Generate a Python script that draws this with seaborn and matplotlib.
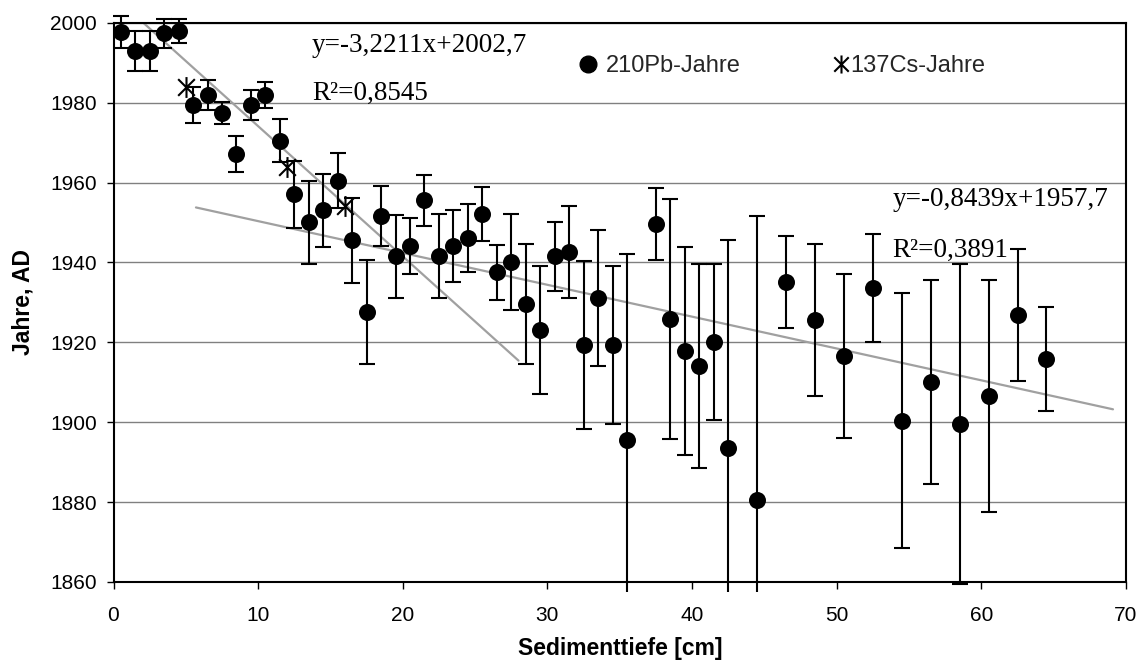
import numpy as np
import pandas as pd
import matplotlib
matplotlib.use("Agg")
import matplotlib.pyplot as plt
import seaborn as sns
from matplotlib.lines import Line2D
from matplotlib.path import Path
from matplotlib.transforms import Bbox, TransformedBbox

# ---------------- data ----------------
pb_depth = [0.5, 1.5, 2.5, 3.5, 4.5, 5.5, 6.5, 7.5, 8.5, 9.5, 10.5, 11.5, 12.5, 13.5,
            14.5, 15.5, 16.5, 17.5, 18.5, 19.5, 20.5, 21.5, 22.5, 23.5, 24.5, 25.5,
            26.5, 27.5, 28.5, 29.5, 30.5, 31.5, 32.5, 33.5, 34.5, 35.5, 37.5, 38.5,
            39.5, 40.5, 41.5, 42.5, 44.5, 46.5, 48.5, 50.5, 52.5, 54.5, 56.5, 58.5,
            60.5, 62.5, 64.5]
pb_year = [1997.6, 1992.8, 1992.8, 1997.3, 1998.0, 1979.4, 1981.9, 1977.4, 1967.1,
           1979.4, 1981.9, 1970.5, 1957.0, 1950.0, 1953.0, 1960.5, 1945.5, 1927.5,
           1951.5, 1941.5, 1944.0, 1955.5, 1941.5, 1944.0, 1946.1, 1952.1, 1937.5,
           1940.0, 1929.5, 1923.0, 1941.5, 1942.5, 1919.4, 1931.1, 1919.4, 1895.5,
           1949.6, 1925.9, 1917.9, 1914.0, 1920.0, 1893.5, 1880.5, 1935.0, 1925.5,
           1916.5, 1933.5, 1900.4, 1910.0, 1899.6, 1906.5, 1926.9, 1915.9]
pb_err = [4.0, 5.0, 5.0, 3.7, 3.0, 4.5, 3.8, 2.7, 4.5, 3.8, 3.3, 5.3, 8.5, 10.4, 9.2,
          7.0, 10.6, 13.0, 7.5, 10.3, 7.0, 6.3, 10.5, 9.0, 8.5, 6.7, 6.8, 12.0, 15.0,
          16.0, 8.7, 11.5, 21.0, 17.0, 19.8, 46.5, 8.9, 30.0, 26.0, 25.5, 19.5, 52.0,
          71.0, 11.5, 19.0, 20.5, 13.5, 32.0, 25.5, 40.0, 29.0, 16.5, 13.0]

cs_depth = [5.0, 12.0, 16.0]
cs_year = [1984.0, 1964.0, 1954.0]

# trend lines (as drawn): x-range, slope, intercept
trend1_x = [1.9, 28.0]
trend1_coef = [-3.26, 2006.7]
trend2_x = [5.7, 69.1]
trend2_coef = [-0.797, 1958.3]

eq1_text = ["y=-3,2211x+2002,7", "R²=0,8545"]
eq2_text = ["y=-0,8439x+1957,7", "R²=0,3891"]
legend_labels = ["210Pb-Jahre", "137Cs-Jahre"]
x_ticks = [0, 10, 20, 30, 40, 50, 60, 70]
y_ticks = [1860, 1880, 1900, 1920, 1940, 1960, 1980, 2000]
x_label = "Sedimenttiefe [cm]"
y_label = "Jahre, AD"

# ---------------- style ----------------
sns.set_theme(style="white")
plt.rcParams['font.family'] = ['Liberation Sans', 'DejaVu Sans']

W, H = 1142, 666
fig = plt.figure(figsize=(W / 100, H / 100), dpi=100)
ax = fig.add_axes([113.5 / W, 1 - 582 / H, (1126 - 113.5) / W, (582 - 22.7) / H])

df = pd.DataFrame({"depth": pb_depth, "year": pb_year, "err": pb_err})
df_cs = pd.DataFrame({"depth": cs_depth, "year": cs_year})

# grid
ax.set_yticks(y_ticks)
ax.set_xticks(x_ticks)
ax.set_xlim(0, 70)
ax.set_ylim(1860, 2000)
ax.yaxis.grid(True, color='#808080', lw=1.0)
ax.xaxis.grid(False)
ax.set_axisbelow(True)

# trend lines
for xr, coef in [(trend1_x, trend1_coef), (trend2_x, trend2_coef)]:
    xs = np.array(xr)
    ys = coef[0] * xs + coef[1]
    sns.lineplot(x=xs, y=ys, ax=ax, color='#a0a0a0', lw=1.6, zorder=2)

# error bars
cont = ax.errorbar(df["depth"], df["year"], yerr=df["err"], fmt='none',
                   ecolor='black', elinewidth=1.5, capsize=6, capthick=1.5, zorder=3)
clipbox = TransformedBbox(Bbox.from_extents(-0.01, -0.018, 1.01, 1.03), ax.transAxes)
for art in list(cont[1]) + list(cont[2]):
    art.set_clip_path(None)
    art.set_clip_box(clipbox)

# points
sns.scatterplot(data=df, x="depth", y="year", ax=ax, color='black', s=150,
                linewidth=0, zorder=4, clip_on=False, legend=False)

star = Path([(0, -1), (0, 1), (-0.8, -0.8), (0.8, 0.8), (-0.8, 0.8), (0.8, -0.8)],
            [Path.MOVETO, Path.LINETO, Path.MOVETO, Path.LINETO, Path.MOVETO, Path.LINETO])
ax.plot(df_cs["depth"], df_cs["year"], ls='none', marker=star, ms=15, mew=1.5,
        color='black', zorder=5)

# spines / ticks
for sp in ax.spines.values():
    sp.set_visible(True)
    sp.set_color('black')
    sp.set_linewidth(1.5)
ax.tick_params(axis='both', direction='out', length=5, width=1, color='black',
               labelsize=15, labelcolor='black')
ax.tick_params(axis='x', pad=12, bottom=True)
ax.tick_params(axis='y', pad=7, left=True)

ax.set_xlabel(x_label, fontsize=16.5, fontweight='bold', labelpad=9, color='black')
ax.set_ylabel(y_label, fontsize=16.5, fontweight='bold', labelpad=11, color='black')

# equations
serif = ['Liberation Serif', 'DejaVu Serif']
eq_fs = 19.5
ax.text(13.72, 1992.7, eq1_text[0], family=serif, fontsize=eq_fs, va='baseline', color='black')
ax.text(13.72, 1980.6, eq1_text[1], family=serif, fontsize=eq_fs, va='baseline', color='black')
ax.text(53.87, 1954.2, eq2_text[0], family=serif, fontsize=eq_fs, va='baseline', color='black')
ax.text(53.87, 1941.5, eq2_text[1], family=serif, fontsize=eq_fs, va='baseline', color='black')

# legend (two single-entry legends to match the spacing)
h_pb = Line2D([], [], marker='o', ls='none', color='black', ms=12)
h_cs = Line2D([], [], marker=star, ls='none', color='black', ms=13, mew=1.5)
leg1 = ax.legend([h_pb], [legend_labels[0]], frameon=False, fontsize=17,
                 handlelength=1.0, handletextpad=0.28, borderpad=0,
                 loc='center left', bbox_to_anchor=(0.4568, 0.9226), borderaxespad=0)
ax.add_artist(leg1)
ax.legend([h_cs], [legend_labels[1]], frameon=False, fontsize=17,
          handlelength=0.6, handletextpad=0.12, borderpad=0,
          loc='center left', bbox_to_anchor=(0.7113, 0.9226), borderaxespad=0)

fig.savefig("out.png", dpi=100)
